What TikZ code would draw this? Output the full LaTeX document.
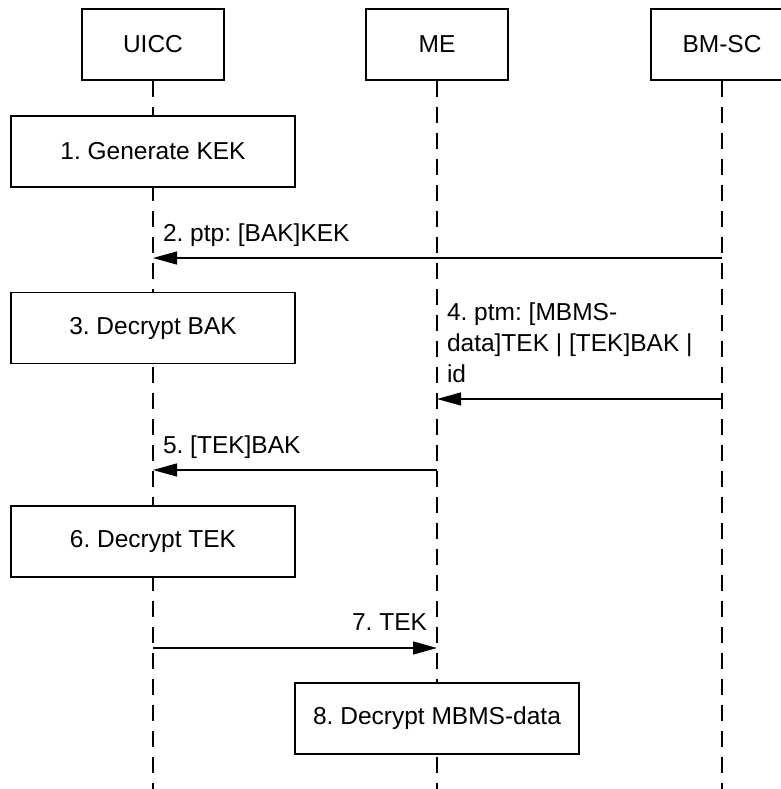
\documentclass[tikz,border=0pt]{standalone}
\usepackage{fontspec}
\setmainfont{Liberation Sans}
\usetikzlibrary{arrows.meta}
\frenchspacing

\begin{document}
\begin{tikzpicture}[x=1pt, y=-1pt,
  font=\fontsize{24.5}{31}\selectfont,
  entity/.style={draw, line width=1.3pt, fill=white, minimum width=142pt,
    minimum height=71pt, inner sep=0pt},
  action/.style={draw, line width=1.3pt, fill=white, minimum width=284pt,
    minimum height=71pt, inner sep=0pt},
  lifeline/.style={line width=1.3pt, dash pattern=on 16pt off 10pt},
  msg/.style={line width=1.3pt, -{Triangle[length=24pt, width=13pt]}},
  lbl/.style={inner sep=0pt, outer sep=0pt}]
\useasboundingbox (0,0) rectangle (780,789);

% participants
\node[entity] (uicc) at (153,44.5) {UICC};
\node[entity] (me)   at (437,44.5) {ME};
\node[entity] (bmsc) at (722,44.5) {BM-SC};

% lifelines
\coordinate (uiccEnd) at (153,789);
\coordinate (meEnd)   at (437,789);
\coordinate (bmscEnd) at (722,789);
\draw[lifeline] (uicc.south) -- (uiccEnd);
\draw[lifeline] (me.south)   -- (meEnd);
\draw[lifeline] (bmsc.south) -- (bmscEnd);

% local actions
\node[action] (a1) at (153,151.5) {1. Generate KEK};
\node[action] (a3) at (153,328)   {3. Decrypt BAK};
\node[action] (a6) at (153,541.5) {6. Decrypt TEK};
\node[action] (a8) at (437,718.5) {8. Decrypt MBMS-data};

% message 2
\coordinate (m2s) at (722,258);
\coordinate (m2e) at (153,258);
\draw[msg] (m2s) -- (m2e);
\node[lbl, anchor=base west] (l2) at (163,241) {2. ptp: [BAK]KEK};

% message 4 (base anchor sits on the last line)
\coordinate (m4s) at (722,399);
\coordinate (m4e) at (437,399);
\draw[msg] (m4s) -- (m4e);
\node[lbl, anchor=base west, align=left] (l4) at (447,382)
  {4. ptm: [MBMS-\\data]TEK | [TEK]BAK |\\id};

% message 5
\coordinate (m5s) at (437,470);
\coordinate (m5e) at (153,470);
\draw[msg] (m5s) -- (m5e);
\node[lbl, anchor=base west] (l5) at (163,453) {5. [TEK]BAK};

% message 7
\coordinate (m7s) at (153,648);
\coordinate (m7e) at (437,648);
\draw[msg] (m7s) -- (m7e);
\node[lbl, anchor=base east] (l7) at (427,630) {7. TEK};
\end{tikzpicture}
\end{document}
